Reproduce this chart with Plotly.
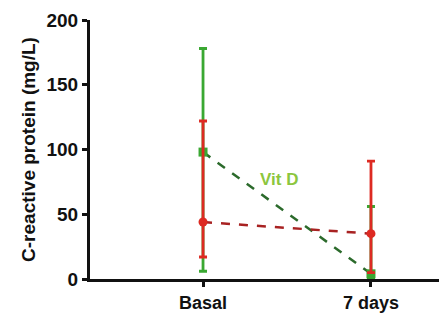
import plotly.graph_objects as go

categories = ["Basal", "7 days"]
x_pos = [0, 1]
vitd_mean = [98, 4]
vitd_upper = [178, 56]
vitd_lower = [6, 0]
ctrl_mean = [44, 35]
ctrl_upper = [122, 91]
ctrl_lower = [17, 5]

fig = go.Figure()

def add_series(mean, upper, lower, bar_color, line_color, symbol):
    fig.add_trace(go.Scatter(
        x=x_pos, y=mean, mode="lines+markers",
        line=dict(color=line_color, width=2.5, dash="dash"),
        marker=dict(color=bar_color, size=9, symbol=symbol),
        error_y=dict(type="data", symmetric=False,
                     array=[u - m for u, m in zip(upper, mean)],
                     arrayminus=[m - l for m, l in zip(mean, lower)],
                     color=bar_color, thickness=2.8, width=4),
        showlegend=False, cliponaxis=False))

add_series(vitd_mean, vitd_upper, vitd_lower, "#3aa832", "#2b6a2b", "square")
add_series(ctrl_mean, ctrl_upper, ctrl_lower, "#dd2a22", "#a82222", "circle")

fig.add_annotation(x=0.45, y=77, text="<b>Vit D</b>", showarrow=False,
                   font=dict(color="#8cc63e", size=17, family="Liberation Sans, Arial"))

fig.update_layout(
    width=439, height=333,
    margin=dict(l=90, r=0, t=20, b=54),
    plot_bgcolor="white", paper_bgcolor="white",
    font=dict(family="Liberation Sans, Arial", color="#111", size=14),
    xaxis=dict(range=[-0.673, 1.405], tickvals=x_pos, ticktext=["<b>%s</b>" % c for c in categories],
               showgrid=False, zeroline=False, showline=True, linecolor="#111", linewidth=3,
               ticks="outside", ticklen=5, tickwidth=2.5, tickcolor="#111",
               tickfont=dict(size=18)),
    yaxis=dict(range=[0, 200], tickvals=[0, 50, 100, 150, 200],
               ticktext=["<b>%d</b>" % v for v in [0, 50, 100, 150, 200]],
               showgrid=False, zeroline=False, showline=True, linecolor="#111", linewidth=3,
               ticks="outside", ticklen=5, tickwidth=2.5, tickcolor="#111",
               tickfont=dict(size=19), ticklabelstandoff=0,
               title=dict(text="<b>C-reactive protein (mg/L)</b>", font=dict(size=19), standoff=6)),
)

fig.write_html("out.html")
